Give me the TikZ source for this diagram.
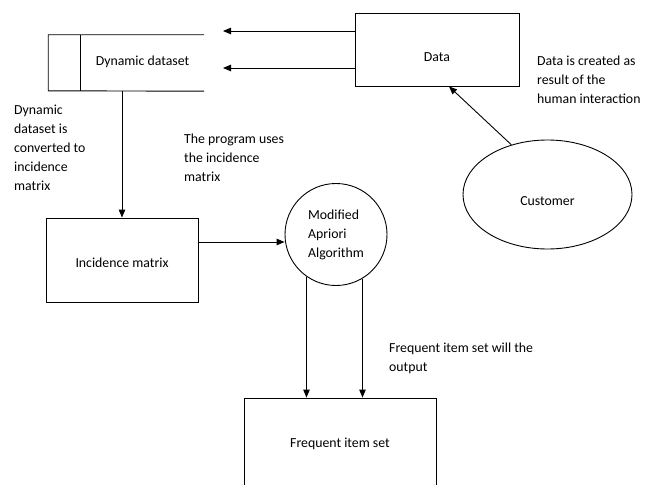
\documentclass[tikz,border=0pt]{standalone}
\usepackage{fontspec}
\setmainfont{Carlito}
\usepackage{tikz}
\usetikzlibrary{shapes.geometric,arrows.meta}

\begin{document}
\begin{tikzpicture}
 [x=1pt, y=-1pt, font=\fontsize{13.8}{19}\selectfont,
  box node/.style={draw, rectangle, line width=0.9pt, inner sep=0pt},
  text node/.style={align=left, inner sep=0pt, anchor=base west},
  flow/.style={-{Triangle[length=8pt,width=6.5pt]}, line width=0.9pt}]

\useasboundingbox (0,0) rectangle (647,484);
\clip (0,0) rectangle (647,484);

\node[box node, minimum width=164pt, minimum height=73pt, text height=25pt, text depth=0pt] (data) at (437,49.5) {Data};
\node[inner sep=0pt, minimum width=123pt, minimum height=56pt, text height=9pt, text depth=3pt] (ds) at (142.5,63) {Dynamic dataset};
\node[box node, minimum width=152pt, minimum height=84pt, text height=14pt, text depth=0pt] (inc) at (122,260) {Incidence matrix};
\node[draw, circle, line width=0.9pt, minimum size=102pt, inner sep=0pt, align=left] (alg) at (336,234.5) {Modified\\Apriori\\Algorithm};
\node[draw, ellipse, line width=0.9pt, minimum width=169pt, minimum height=109pt, inner sep=0pt, text height=21pt, text depth=0pt] (cust) at (547.5,194.5) {Customer};
\node[box node, minimum width=192pt, minimum height=92pt, text height=9pt, text depth=3pt] (freq) at (340,444) {Frequent item set};

% notes (anchored on the last line)
\node[text node] (dsnote) at (14,190) {Dynamic\\dataset is\\converted to\\incidence\\matrix};
\node[text node] (prognote) at (184,181) {The program uses\\the incidence\\matrix};
\node[text node] (datanote) at (537,103) {Data is created as\\result of the\\human interaction};
\node[text node] (outnote) at (389,371) {Frequent item set will the\\output};

% store outline
\draw[line width=0.9pt] (ds.north east) -- ++(-156,0) -- ++(0,56) -- (ds.south east);
\draw[line width=0.9pt] (ds.north west) -- (ds.south west);

\coordinate (in1) at (223,31);
\coordinate (in2) at (223,68);
\coordinate (m) at ([yshift=18pt]inc.east);

\path
  (data.west |- in1) edge [flow] (in1)
  (data.west |- in2) edge [flow] (in2)
  (cust.126) edge [flow] ([xshift=12pt]data.south)
  (ds.south -| inc.north) edge [flow] (inc.north)
  (m) edge [flow] (m -| alg.west)
  (alg.235) edge [flow] (alg.235 |- freq.north)
  (alg.301) edge [flow] (alg.301 |- freq.north);

\end{tikzpicture}
\end{document}
